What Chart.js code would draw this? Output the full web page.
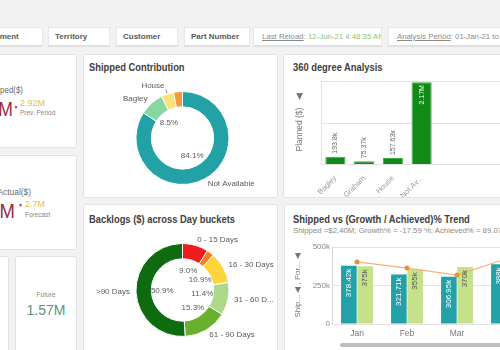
<!DOCTYPE html>
<html><head><meta charset="utf-8">
<script src="https://cdn.jsdelivr.net/npm/chart.js@4.4.0/dist/chart.umd.min.js"></script>
<style>
html,body{margin:0;padding:0;width:500px;height:350px;overflow:hidden;background:#f2f2f2;font-family:"Liberation Sans",Arial,sans-serif;position:relative;}
.panel{position:absolute;background:#fff;border:1px solid #e2e2e2;border-radius:3px;box-sizing:border-box;}
.filter{position:absolute;top:27px;height:20px;background:#fff;border:1px solid #e8e8e8;border-bottom:2px solid #e0e0e0;box-sizing:border-box;font-size:8px;font-weight:bold;color:#595959;line-height:17px;padding-left:6px;white-space:nowrap;overflow:hidden;}
.info{position:absolute;top:27px;height:20px;background:#fff;border:1px solid #e8e8e8;border-bottom:2px solid #e0e0e0;box-sizing:border-box;font-size:7.8px;color:#8a8a8a;line-height:17px;padding-left:8px;white-space:nowrap;overflow:hidden;}
.title{position:absolute;font-weight:bold;font-size:11px;color:#404040;white-space:nowrap;line-height:12px;transform:scaleX(0.85);transform-origin:left center;}
.t{position:absolute;white-space:nowrap;line-height:1;}
.sqr{transform:scaleX(0.88);transform-origin:right center;}
canvas{position:absolute;}
</style></head><body>

<div class="filter" style="left:-22px;width:65px;">Segment</div>
<div class="filter" style="left:48px;width:62px;">Territory</div>
<div class="filter" style="left:116px;width:62px;">Customer</div>
<div class="filter" style="left:184px;width:66px;">Part Number</div>
<div class="info" style="left:253px;width:129px;"><u>Last Reload</u>: <span style="color:#8cc474">12-Jun-21 4:48:35 AM</span></div>
<div class="info" style="left:388px;width:130px;"><u>Analysis Period</u>: 01-Jan-21 to 12-Jun-21</div>

<!-- KPI panels -->
<div class="panel" style="left:-80px;top:54px;width:157px;height:94px;"></div>
<div class="t sqr" style="left:-77px;width:100px;text-align:right;top:85.5px;font-size:9px;color:#6a6a6a;">Shipped($)</div>
<div class="t sqr" style="left:-87px;width:100px;text-align:right;top:99px;font-size:20px;color:#962d3e;">2.40M</div>
<div class="t" style="left:13.5px;top:105px;font-size:5px;color:#962d3e;">▼</div>
<div class="t" style="left:20px;top:98.5px;font-size:9px;color:#e3c04c;">2.92M</div>
<div class="t" style="left:20px;top:110px;font-size:6.5px;color:#888;">Prev. Period</div>

<div class="panel" style="left:-80px;top:155px;width:157px;height:95px;"></div>
<div class="t sqr" style="left:-69px;width:100px;text-align:right;top:187px;font-size:9.5px;color:#6a6a6a;">Actual($)</div>
<div class="t sqr" style="left:-85px;width:100px;text-align:right;top:200px;font-size:21px;color:#962d3e;">2.40M</div>
<div class="t" style="left:18px;top:203px;font-size:5px;color:#962d3e;">▼</div>
<div class="t" style="left:25px;top:199.5px;font-size:9px;color:#e3c04c;">2.7M</div>
<div class="t" style="left:25px;top:212px;font-size:6.5px;color:#888;">Forecast</div>

<div class="panel" style="left:-60px;top:256px;width:69px;height:110px;"></div>
<div class="panel" style="left:15px;top:256px;width:62px;height:110px;"></div>
<div class="t" style="left:15px;width:62px;text-align:center;top:291.5px;font-size:6.5px;color:#888;">Future</div>
<div class="t" style="left:15px;width:62px;text-align:center;top:303px;font-size:14px;color:#5f927a;">1.57M</div>

<!-- chart panels -->
<div class="panel" style="left:83px;top:54px;width:195px;height:144px;"></div>
<div class="title" style="left:89px;top:61px;">Shipped Contribution</div>
<div class="panel" style="left:283px;top:54px;width:240px;height:144px;"></div>
<div class="title" style="left:293px;top:61px;">360 degree Analysis</div>
<div class="panel" style="left:83px;top:204px;width:195px;height:160px;"></div>
<div class="title" style="left:89px;top:213px;">Backlogs ($) across Day buckets</div>
<div class="panel" style="left:284px;top:204px;width:240px;height:160px;"></div>
<div class="title" style="left:293px;top:213px;">Shipped vs (Growth / Achieved)% Trend</div>
<div class="t" style="left:293px;top:227px;font-size:7.8px;color:#8a8a8a;">Shipped =$2.40M; Growth% = -17.59 %; Achieved% = 89.07 %</div>
<div class="t" style="left:340px;top:343px;width:170px;height:4px;background:#bdbdbd;border-radius:2px;"></div>

<canvas id="c1" width="195" height="124" style="left:85px;top:76px;"></canvas>
<canvas id="c2" width="217" height="123" style="left:283px;top:75px;"></canvas>
<canvas id="c3" width="195" height="124" style="left:85px;top:228px;"></canvas>
<canvas id="c4" width="251" height="104" style="left:285px;top:238px;"></canvas>

<script>
// ---- data ----
const contribLabels = ['Not Available', 'Bagley', 'House', 'Graham'];
const contribPct = [84.1, 8.5, 4.3, 3.1];

const analysisCats = ['Bagley', 'Graham', 'House', 'Not Available'];
const analysisPlanned = [193800, 75370, 157630, 2170000];

const backlogLabels = ['0 - 15 Days', 'Past Due', '16 - 30 Days', '31 - 60 Days', '61 - 90 Days', '>90 Days'];
const backlogPct = [9.0, 2.5, 10.9, 11.4, 15.3, 50.9];

const months = ['Jan', 'Feb', 'Mar', 'Apr'];
const shippedVals = [378420, 321710, 306950, 388000];
const forecastVals = [375000, 355000, 370000, 380000];
const trendVals = [403000, 363000, 318000, 425000];
const trendTicks = [0, 250000, 500000];

// ---- helpers ----
const LBL = '"Liberation Sans", Arial, sans-serif';
function fmtK(v){
  if (v >= 1e6) return (+(v/1e6).toFixed(2)) + 'M';
  if (v >= 1e3) return (+(v/1e3).toFixed(2)) + 'k';
  return String(v);
}

const donutLabels = {
  id: 'donutLabels',
  afterDatasetsDraw(chart) {
    const ctx = chart.ctx;
    const meta = chart.getDatasetMeta(0);
    const data = chart.data.datasets[0].data;
    const total = data.reduce((a, b) => a + b, 0);
    ctx.save();
    ctx.fillStyle = '#595959';
    ctx.strokeStyle = '#8c8c8c';
    ctx.lineWidth = 1;
    meta.data.forEach((arc, i) => {
      const pct = data[i] / total * 100;
      const mid = (arc.startAngle + arc.endAngle) / 2;
      const cx = arc.x, cy = arc.y;
      const c = Math.cos(mid), s = Math.sin(mid);
      if (pct >= 5) {
        ctx.font = '8px ' + LBL;
        ctx.textAlign = 'center';
        ctx.textBaseline = 'middle';
        const r = arc.innerRadius * 0.65;
        ctx.fillText(pct.toFixed(1) + '%', cx + c * r, cy + s * r);
      }
      if (pct >= 4) {
        let r = arc.outerRadius + 6;
        if (pct < 5) {
          ctx.beginPath();
          ctx.moveTo(cx + c * (arc.outerRadius + 1), cy + s * (arc.outerRadius + 1));
          ctx.lineTo(cx + c * (arc.outerRadius + 5), cy + s * (arc.outerRadius + 5));
          ctx.stroke();
          r = arc.outerRadius + 9;
        }
        const x = cx + c * r, y = cy + s * r;
        ctx.font = '8px ' + LBL;
        ctx.textBaseline = 'middle';
        let txt = chart.data.labels[i];
        if (c >= 0) {
          ctx.textAlign = 'left';
          const lim = chart.width - 5 - x;
          if (ctx.measureText(txt).width > lim) {
            while (txt.length > 1 && ctx.measureText(txt + '...').width > lim) txt = txt.slice(0, -1);
            txt = txt.trimEnd() + '...';
          }
        } else ctx.textAlign = 'right';
        ctx.fillText(txt, x, y);
      }
    });
    ctx.restore();
  }
};

function donut(id, labels, values, colors) {
  return new Chart(document.getElementById(id), {
    type: 'doughnut',
    data: { labels: labels, datasets: [{ data: values, backgroundColor: colors, borderColor: '#ffffff', borderWidth: 1 }] },
    options: {
      responsive: false, animation: false, cutout: '67%',
      layout: { padding: 15 },
      plugins: { legend: { display: false }, tooltip: { enabled: false } }
    },
    plugins: [donutLabels]
  });
}

donut('c1', contribLabels, contribPct, ['#22a1a7', '#86d7a0', '#fbe07c', '#ee9d3c']);
donut('c3', backlogLabels, backlogPct, ['#ee1c1c', '#ff7a1a', '#fdd43a', '#acd98c', '#6ab02f', '#0e6b10']);

// extended grid for 360 chart
const extGrid = {
  id: 'extGrid',
  beforeDatasetsDraw(chart) {
    const { ctx, chartArea } = chart;
    const y = chart.scales.y;
    ctx.save();
    ctx.strokeStyle = '#e2e2e2';
    ctx.lineWidth = 1;
    y.ticks.forEach(t => {
      const py = Math.round(y.getPixelForValue(t.value)) + 0.5;
      ctx.beginPath(); ctx.moveTo(chartArea.left, py); ctx.lineTo(chart.width, py); ctx.stroke();
    });
    ctx.beginPath();
    ctx.moveTo(Math.round(chartArea.left) + 0.5, chartArea.top);
    ctx.lineTo(Math.round(chartArea.left) + 0.5, chartArea.bottom);
    ctx.stroke();
    ctx.restore();
  }
};

// vertical value labels on bars
const barLabels = {
  id: 'barLabels',
  afterDatasetsDraw(chart, args, opts) {
    const ctx = chart.ctx;
    chart.data.datasets.forEach((ds, di) => {
      if (ds.type === 'line') return;
      const meta = chart.getDatasetMeta(di);
      meta.data.forEach((bar, i) => {
        const txt = fmtK(ds.data[i]);
        ctx.save();
        ctx.font = opts.font;
        const w = ctx.measureText(txt).width;
        const h = bar.base - bar.y;
        ctx.textBaseline = 'middle';
        if (w + 6 < h) {
          ctx.translate(bar.x, bar.y + 3);
          ctx.rotate(-Math.PI / 2);
          ctx.textAlign = 'right';
          ctx.fillStyle = (opts.inside && opts.inside[di]) || '#fff';
        } else {
          ctx.translate(bar.x, bar.y - 3);
          ctx.rotate(-Math.PI / 2);
          ctx.textAlign = 'left';
          ctx.fillStyle = '#666';
        }
        ctx.fillText(txt, 0, 0);
        ctx.restore();
      });
    });
  }
};

new Chart(document.getElementById('c2'), {
  type: 'bar',
  data: { labels: analysisCats, datasets: [{ data: analysisPlanned, backgroundColor: '#128a17', borderColor: '#3fae3f', borderWidth: 1, categoryPercentage: 0.7, barPercentage: 1 }] },
  options: {
    responsive: false, animation: false,
    layout: { padding: { top: 6, right: 64, left: 0, bottom: 0 } },
    plugins: { legend: { display: false }, tooltip: { enabled: false }, barLabels: { font: '7px ' + LBL, inside: ['#fff'] } },
    scales: {
      x: {
        grid: { display: false }, border: { display: false },
        ticks: { autoSkip: false, minRotation: 45, maxRotation: 45, color: '#999', font: { size: 7.5, family: LBL }, padding: 2,
          callback(v) { const l = this.getLabelForValue(v); return l.length > 8 ? l.slice(0, 6) + '...' : l; } },
        afterFit(s) { s.height = 34; }
      },
      y: {
        min: 0, max: 2200000,
        ticks: { display: false, stepSize: 1100000 },
        grid: { display: false }, border: { display: false },
        title: { display: true, text: 'Planned ($)   ◀', color: '#777', font: { size: 8.5, family: LBL }, padding: { top: 12, bottom: 0 } },
        afterFit(s) { s.width = 38; }
      }
    }
  },
  plugins: [extGrid, barLabels]
});

new Chart(document.getElementById('c4'), {
  data: {
    labels: months,
    datasets: [
      { type: 'line', data: trendVals, borderColor: '#f3b274', borderWidth: 1.2, pointRadius: 2.5, pointBackgroundColor: '#e8903a', pointBorderWidth: 0, order: 0 },
      { type: 'bar', data: shippedVals, backgroundColor: '#22a2a8', categoryPercentage: 0.65, barPercentage: 0.96, order: 1 },
      { type: 'bar', data: forecastVals, backgroundColor: '#c5e189', categoryPercentage: 0.65, barPercentage: 0.96, order: 1 }
    ]
  },
  options: {
    responsive: false, animation: false,
    layout: { padding: { top: 9, right: 0, left: 0, bottom: 0 } },
    plugins: { legend: { display: false }, tooltip: { enabled: false }, barLabels: { font: '8px ' + LBL, inside: [null, '#fff', '#555'] } },
    scales: {
      x: {
        grid: { display: false, drawTicks: false, tickLength: 0 }, border: { display: false },
        ticks: { color: '#777', font: { size: 8.5, family: LBL }, padding: 5, maxRotation: 0 },
        afterFit(s) { s.height = 18; }
      },
      y: {
        min: trendTicks[0], max: trendTicks[trendTicks.length - 1],
        afterBuildTicks(s) { s.ticks = trendTicks.map(v => ({ value: v })); },
        ticks: { color: '#888', font: { size: 8, family: LBL }, padding: 2, callback: v => fmtK(v) },
        grid: { color: '#e4e4e4', drawTicks: false },
        border: { display: true, color: '#d6d6d6' },
        title: { display: true, text: 'Ship... ◀ , For... ◀', color: '#777', font: { size: 8, family: LBL }, padding: { top: 8, bottom: 0 } },
        afterFit(s) { s.width = 47; }
      }
    }
  },
  plugins: [barLabels]
});
</script>
</body></html>
